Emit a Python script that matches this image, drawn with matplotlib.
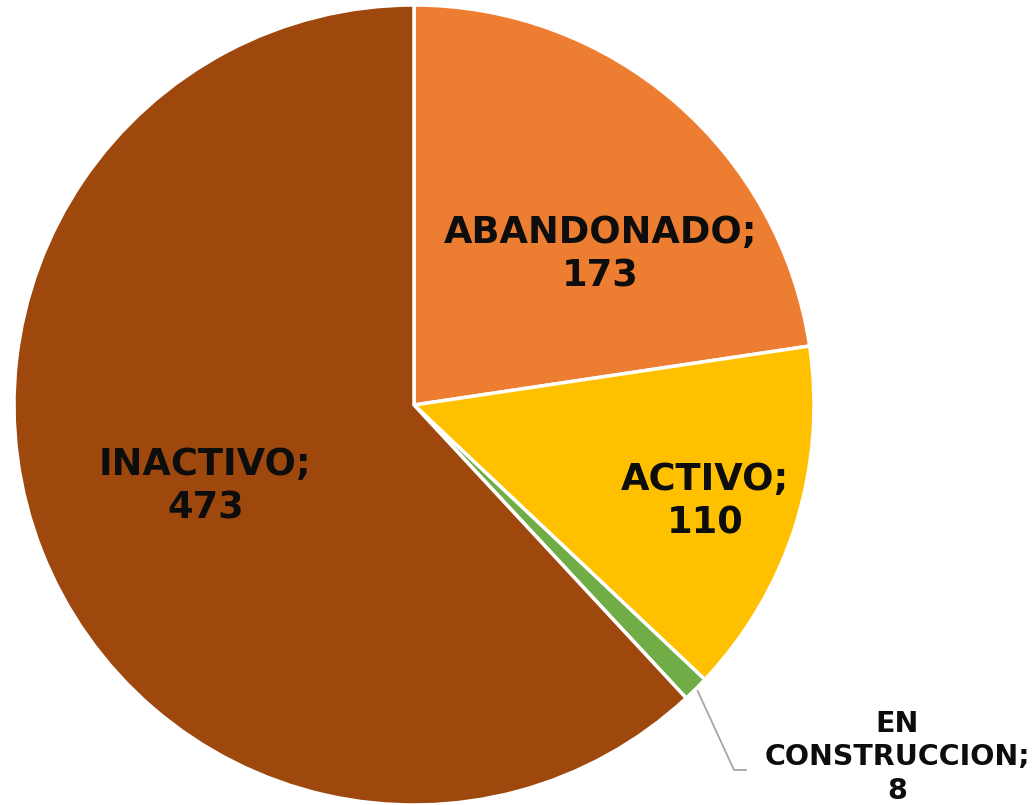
import numpy as np
import matplotlib
matplotlib.use("Agg")
import matplotlib.pyplot as plt

categories = ["ABANDONADO", "ACTIVO", "EN CONSTRUCCION", "INACTIVO"]
values = [173, 110, 8, 473]
colors = ["#ED7D31", "#FFC000", "#70AD47", "#9E480E"]

fig = plt.figure(figsize=(10.34, 8.05), dpi=100)
ax = fig.add_axes([0, 0, 1, 1])
ax.set_aspect("equal")
ax.axis("off")

wedges, _ = ax.pie(values, colors=colors, startangle=90, counterclock=False,
                   radius=1.0, center=(0, 0),
                   wedgeprops=dict(edgecolor="white", linewidth=2.5))
ax.set_xlim(-1.035, 1.55)
ax.set_ylim(-1.0, 1.0125)

# label placement: (radial distance, angle shift in degrees)
placement = {
    "ABANDONADO": (0.60, -10.3),
    "ACTIVO": (0.766, -0.8),
    "INACTIVO": (0.56, -0.2),
}
txt_kw = dict(ha="center", va="center", fontsize=26.5, fontweight="bold",
              color="#0d0d0d", family="DejaVu Sans", linespacing=1.22)
for w, cat, v in zip(wedges, categories, values):
    mid = np.deg2rad((w.theta1 + w.theta2) / 2)
    if cat in placement:
        r, shift = placement[cat]
        a = mid + np.deg2rad(shift)
        ax.text(r * np.cos(a), r * np.sin(a), f"{cat};\n{v}", **txt_kw)
    else:
        ex, ey = np.cos(mid), np.sin(mid)
        ax.plot([ex + 0.005, 0.80, 0.83], [ey - 0.005, -0.9125, -0.9125],
                color="#a6a6a6", lw=1.3, zorder=0.5)
        ax.text(1.2075, -0.881, f"EN\nCONSTRUCCION;\n{v}",
                **{**txt_kw, "fontsize": 20.5, "linespacing": 1.24})

fig.savefig("out.png", dpi=100)
